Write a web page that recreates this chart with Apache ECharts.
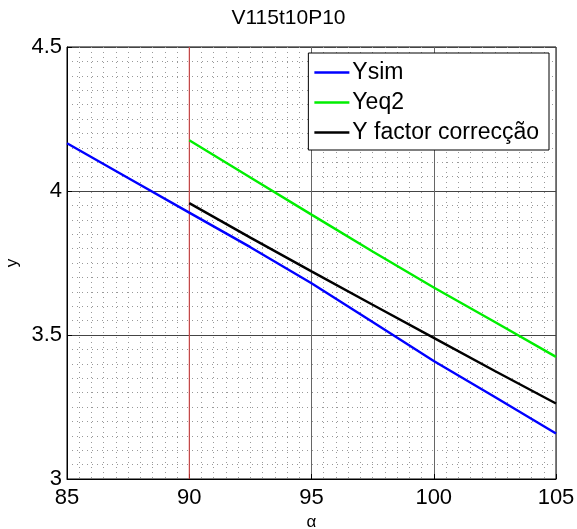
<!DOCTYPE html>
<html><head><meta charset="utf-8">
<script src="https://cdn.jsdelivr.net/npm/echarts@6/dist/echarts.min.js"></script>
<style>html,body{margin:0;padding:0;background:#fff}#c{width:577px;height:529px}</style>
</head><body><div id="c"></div>
<script>
const titleText = 'V115t10P10';
const alphaSim = [85, 87.5, 90, 92.5, 95, 97.5, 100, 102.5, 105];
const ySim = [4.166, 4.045, 3.925, 3.805, 3.68, 3.545, 3.41, 3.285, 3.158];
const alphaEq = [90, 92.5, 95, 97.5, 100, 102.5, 105];
const yEq2 = [4.176, 4.047, 3.918, 3.79, 3.665, 3.545, 3.424];
const yFactor = [3.958, 3.838, 3.721, 3.605, 3.49, 3.375, 3.262];
const xTicks = [85, 90, 95, 100, 105];
const yTicks = [3, 3.5, 4, 4.5];
const names = ['Ysim', 'Yeq2', 'Y factor correcção'];
const markX = [90, 90];
const markY = [3, 4.5];

const zip = (xs, ys) => xs.map((x, i) => [x, ys[i]]);
const font = 'Liberation Sans, Arial, sans-serif';
const chart = echarts.init(document.getElementById('c'));
chart.setOption({
  animation: false,
  title: { text: titleText, left: 'center', top: 3, textStyle: { fontFamily: font, fontSize: 21, fontWeight: 'normal', color: '#000' } },
  grid: { left: 67, top: 47, right: 21, bottom: 50, containLabel: false, outerBoundsMode: 'none', show: true, borderColor: '#000', borderWidth: 1, backgroundColor: '#fff' },
  xAxis: {
    type: 'value', min: 85, max: 105, interval: 5,
    name: 'α', nameLocation: 'middle', nameGap: 30,
    nameTextStyle: { fontFamily: font, fontSize: 17, color: '#000' },
    axisLine: { show: true, onZero: false, lineStyle: { color: '#000' } },
    axisTick: { show: true, inside: true, length: 5, lineStyle: { color: '#000' } },
    axisLabel: { fontFamily: font, fontSize: 22, color: '#000', margin: 8,
      formatter: v => xTicks.includes(v) ? String(v) : '' },
    splitLine: { show: true, lineStyle: { color: '#666', width: 1, type: 'solid' } },
    minorTick: { show: false, splitNumber: 10 },
    minorSplitLine: { show: true, lineStyle: { color: '#999', width: 1, type: [1, 4] } }
  },
  yAxis: {
    type: 'value', min: 3, max: 4.5, interval: 0.5,
    name: 'y', nameLocation: 'middle', nameGap: 46,
    nameTextStyle: { fontFamily: font, fontSize: 17, color: '#000' },
    axisLine: { show: true, onZero: false, lineStyle: { color: '#000' } },
    axisTick: { show: true, inside: true, length: 5, lineStyle: { color: '#000' } },
    axisLabel: { fontFamily: font, fontSize: 22, color: '#000', margin: 5,
      formatter: v => { const t = yTicks.find(k => Math.abs(k - v) < 1e-9); return t === undefined ? '' : String(t); } },
    splitLine: { show: true, lineStyle: { color: '#444', width: 1, type: 'solid' } },
    minorTick: { show: false, splitNumber: 10 },
    minorSplitLine: { show: true, lineStyle: { color: '#999', width: 1, type: [1, 4] } }
  },
  legend: {
    orient: 'vertical', right: 28, top: 53,
    backgroundColor: '#fff', borderColor: '#000', borderWidth: 1,
    padding: [8, 10, 6, 6], itemGap: 7, itemWidth: 35, itemHeight: 2.5, icon: 'rect',
    textStyle: { fontFamily: font, fontSize: 23, color: '#000', padding: [0, 0, 0, -2] },
    data: names
  },
  series: [
    { name: 'mark', type: 'line', symbol: 'none', data: zip(markX, markY), lineStyle: { color: '#e04040', width: 1 }, z: 2, silent: true },
    { name: names[0], type: 'line', symbol: 'none', data: zip(alphaSim, ySim), lineStyle: { color: '#0000ff', width: 2.4 }, itemStyle: { color: '#0000ff' }, z: 3 },
    { name: names[1], type: 'line', symbol: 'none', data: zip(alphaEq, yEq2), lineStyle: { color: '#00ee00', width: 2.4 }, itemStyle: { color: '#00ee00' }, z: 3 },
    { name: names[2], type: 'line', symbol: 'none', data: zip(alphaEq, yFactor), lineStyle: { color: '#000', width: 2.4 }, itemStyle: { color: '#000' }, z: 3 }
  ]
});
</script></body></html>
